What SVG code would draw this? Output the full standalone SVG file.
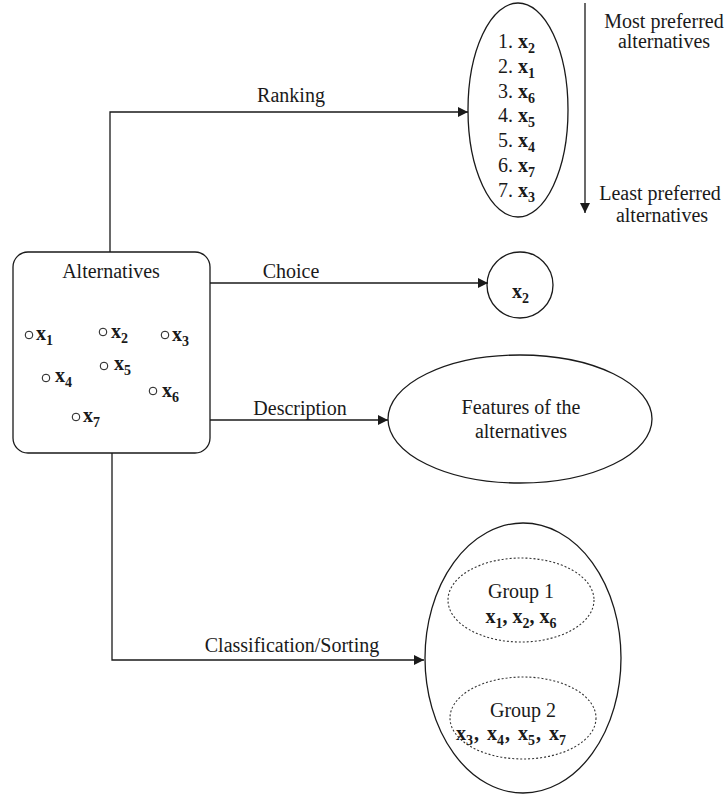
<svg xmlns="http://www.w3.org/2000/svg" width="727" height="799" viewBox="0 0 727 799">
<defs>
<style>
text{font-family:"Liberation Serif","Times New Roman",serif;font-size:20px;fill:#1a1a1a}
.m{text-anchor:middle}
.b{font-weight:bold}
.s{font-size:14px}
.shape{fill:none;stroke:#1a1a1a;stroke-width:1.3}
.dash{fill:none;stroke:#333;stroke-width:1.1;stroke-dasharray:2 2}
.pt{fill:#fff;stroke:#1a1a1a;stroke-width:1}
.con{fill:none;stroke:#1a1a1a;stroke-width:1.3}
</style>
<marker id="ah" viewBox="0 0 10 10" refX="10" refY="5" markerWidth="11" markerHeight="10" markerUnits="userSpaceOnUse" orient="auto">
<path d="M0,0 L10,5 L0,10 z" fill="#1a1a1a"/>
</marker>
</defs>
<rect width="727" height="799" fill="#fff"/>

<g id="connectors">
<path class="con" d="M110 252 V112 H468" marker-end="url(#ah)"/>
<path class="con" d="M210 283 H488" marker-end="url(#ah)"/>
<path class="con" d="M210 420 H388" marker-end="url(#ah)"/>
<path class="con" d="M112 453 V660 H424" marker-end="url(#ah)"/>
<path class="con" d="M585 3 V213" marker-end="url(#ah)"/>
<text class="m" x="291" y="102">Ranking</text>
<text class="m" x="291" y="278">Choice</text>
<text class="m" x="300" y="415">Description</text>
<text class="m" x="292" y="652">Classification/Sorting</text>
<text class="m" x="664" y="28">Most preferred</text>
<text class="m" x="664" y="48">alternatives</text>
<text class="m" x="660" y="200">Least preferred</text>
<text class="m" x="662" y="222">alternatives</text>
</g>

<g id="alternatives">
<rect class="shape" x="13" y="252" width="197" height="201" rx="15"/>
<text class="m" x="111" y="278">Alternatives</text>
<circle class="pt" cx="29" cy="335" r="3.8"/>
<text x="36" y="340" class="b">x<tspan class="s" dy="5">1</tspan></text>
<circle class="pt" cx="103" cy="332" r="3.8"/>
<text x="111" y="338" class="b">x<tspan class="s" dy="5">2</tspan></text>
<circle class="pt" cx="165" cy="335" r="3.8"/>
<text x="172" y="341" class="b">x<tspan class="s" dy="5">3</tspan></text>
<circle class="pt" cx="46" cy="378" r="3.8"/>
<text x="55" y="382" class="b">x<tspan class="s" dy="5">4</tspan></text>
<circle class="pt" cx="104" cy="366" r="3.8"/>
<text x="114" y="370" class="b">x<tspan class="s" dy="5">5</tspan></text>
<circle class="pt" cx="153" cy="391" r="3.8"/>
<text x="162" y="397" class="b">x<tspan class="s" dy="5">6</tspan></text>
<circle class="pt" cx="76" cy="417" r="3.8"/>
<text x="83" y="422" class="b">x<tspan class="s" dy="5">7</tspan></text>
</g>

<g id="ranking">
<ellipse class="shape" cx="518" cy="110" rx="50" ry="107"/>
<text x="498" y="48">1. <tspan class="b">x</tspan><tspan class="s b" dy="5">2</tspan></text>
<text x="498" y="73">2. <tspan class="b">x</tspan><tspan class="s b" dy="5">1</tspan></text>
<text x="498" y="98">3. <tspan class="b">x</tspan><tspan class="s b" dy="5">6</tspan></text>
<text x="498" y="122">4. <tspan class="b">x</tspan><tspan class="s b" dy="5">5</tspan></text>
<text x="498" y="147">5. <tspan class="b">x</tspan><tspan class="s b" dy="5">4</tspan></text>
<text x="498" y="172">6. <tspan class="b">x</tspan><tspan class="s b" dy="5">7</tspan></text>
<text x="498" y="197">7. <tspan class="b">x</tspan><tspan class="s b" dy="5">3</tspan></text>
</g>

<g id="choice">
<circle class="shape" cx="520" cy="285" r="33"/>
<text x="512" y="298" class="b">x<tspan class="s" dy="5">2</tspan></text>
</g>

<g id="description">
<ellipse class="shape" cx="520" cy="419" rx="132" ry="64"/>
<text class="m" x="521" y="414">Features of the</text>
<text class="m" x="521" y="438">alternatives</text>
</g>

<g id="classification">
<ellipse class="shape" cx="523" cy="658" rx="98" ry="135"/>
<ellipse class="dash" cx="521" cy="600" rx="73" ry="42"/>
<text class="m" x="521" y="598">Group 1</text>
<text class="m b" x="521" y="623">x<tspan class="s" dy="5">1</tspan><tspan dy="-5">, x</tspan><tspan class="s" dy="5">2</tspan><tspan dy="-5">, x</tspan><tspan class="s" dy="5">6</tspan></text>
<ellipse class="dash" cx="523" cy="718" rx="73" ry="41"/>
<text class="m" x="523" y="717">Group 2</text>
<text class="m b" x="511" y="740">x<tspan class="s" dy="5">3</tspan><tspan dy="-5" dx="1">, </tspan><tspan dx="3">x</tspan><tspan class="s" dy="5">4</tspan><tspan dy="-5" dx="1">, </tspan><tspan dx="3">x</tspan><tspan class="s" dy="5">5</tspan><tspan dy="-5" dx="1">, </tspan><tspan dx="3">x</tspan><tspan class="s" dy="5">7</tspan></text>
</g>
</svg>
